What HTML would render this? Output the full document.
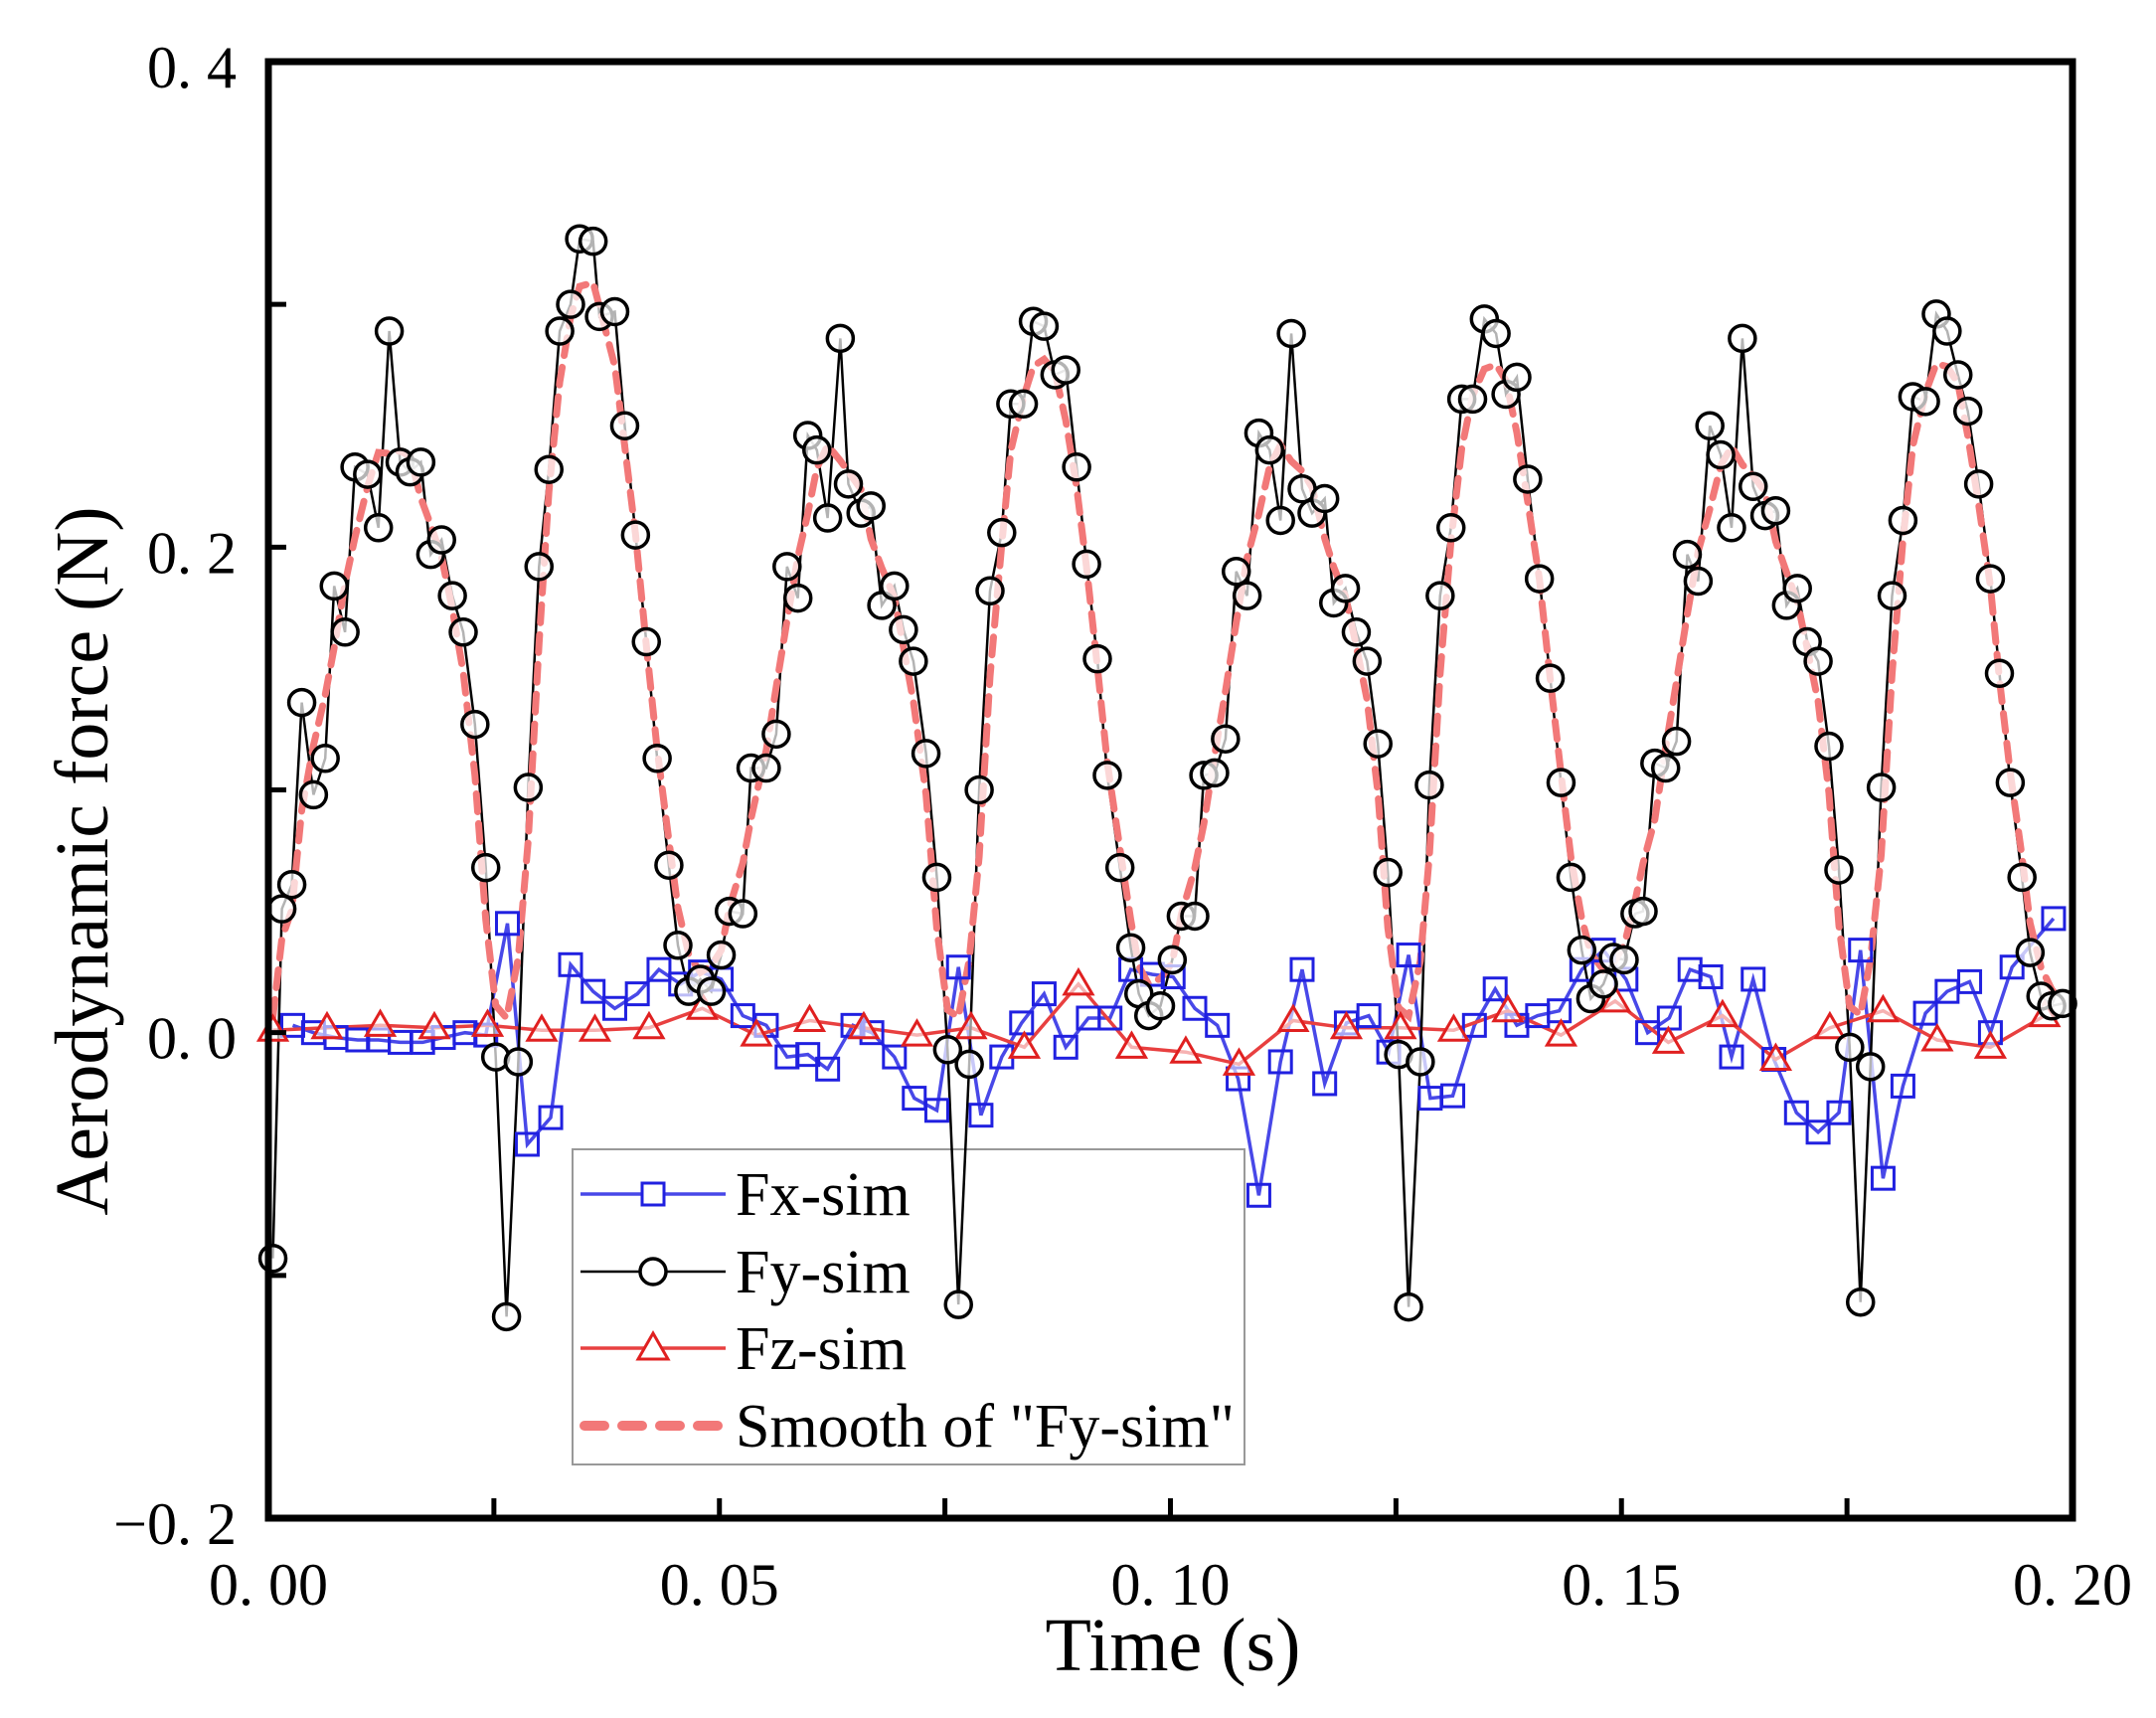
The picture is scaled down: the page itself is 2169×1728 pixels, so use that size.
<!DOCTYPE html>
<html><head><meta charset="utf-8"><style>
html,body{margin:0;padding:0;background:#fff;}
svg{display:block;}
text{font-family:"Liberation Serif","Noto Serif CJK SC",serif;fill:#000;}
</style></head><body>
<svg id="chart" width="2169" height="1728" viewBox="0 0 2169 1728" xmlns="http://www.w3.org/2000/svg">
<g id="legend"></g>
<g id="plot"></g>
<g id="axes"></g>
</svg>
<script>
const fyT=[0.0005,0.0015,0.0026,0.0037,0.0050,0.0063,0.0073,0.0085,0.0096,0.0110,0.0122,0.0134,0.0146,0.0157,0.0169,0.0180,0.0192,0.0204,0.0216,0.0229,0.0241,0.0252,0.0264,0.0277,0.0288,0.0300,0.0311,0.0323,0.0335,0.0345,0.0360,0.0367,0.0384,0.0395,0.0407,0.0419,0.0431,0.0444,0.0454,0.0466,0.0479,0.0491,0.0502,0.0511,0.0526,0.0535,0.0552,0.0563,0.0575,0.0587,0.0598,0.0608,0.0620,0.0634,0.0643,0.0657,0.0668,0.0680,0.0694,0.0704,0.0715,0.0729,0.0741,0.0753,0.0765,0.0777,0.0788,0.0800,0.0813,0.0823,0.0837,0.0848,0.0860,0.0872,0.0884,0.0896,0.0907,0.0919,0.0930,0.0944,0.0956,0.0965,0.0976,0.0989,0.1002,0.1012,0.1027,0.1037,0.1049,0.1061,0.1073,0.1085,0.1098,0.1110,0.1122,0.1134,0.1146,0.1157,0.1171,0.1181,0.1194,0.1206,0.1218,0.1230,0.1241,0.1253,0.1264,0.1277,0.1287,0.1299,0.1311,0.1323,0.1335,0.1348,0.1361,0.1372,0.1384,0.1396,0.1409,0.1421,0.1433,0.1444,0.1456,0.1466,0.1480,0.1491,0.1503,0.1515,0.1524,0.1537,0.1549,0.1561,0.1573,0.1585,0.1598,0.1610,0.1622,0.1634,0.1646,0.1659,0.1671,0.1683,0.1695,0.1706,0.1718,0.1730,0.1741,0.1753,0.1765,0.1776,0.1788,0.1800,0.1812,0.1823,0.1837,0.1849,0.1861,0.1873,0.1884,0.1896,0.1909,0.1919,0.1931,0.1944,0.1953,0.1965,0.1977,0.1989];
const fyV=[-0.093,0.051,0.061,0.136,0.098,0.113,0.184,0.165,0.233,0.230,0.208,0.289,0.235,0.231,0.235,0.197,0.203,0.180,0.165,0.127,0.068,-0.010,-0.117,-0.012,0.101,0.192,0.232,0.289,0.300,0.327,0.326,0.295,0.297,0.250,0.205,0.161,0.113,0.069,0.036,0.017,0.022,0.017,0.032,0.050,0.049,0.109,0.109,0.123,0.192,0.179,0.246,0.240,0.212,0.286,0.226,0.214,0.217,0.176,0.184,0.166,0.153,0.115,0.064,-0.007,-0.112,-0.013,0.100,0.182,0.206,0.259,0.259,0.293,0.291,0.271,0.273,0.233,0.193,0.154,0.106,0.068,0.035,0.016,0.007,0.011,0.030,0.048,0.048,0.106,0.107,0.121,0.190,0.180,0.247,0.240,0.211,0.288,0.224,0.214,0.220,0.177,0.183,0.165,0.153,0.119,0.066,-0.009,-0.113,-0.012,0.102,0.180,0.208,0.261,0.261,0.294,0.288,0.263,0.270,0.228,0.187,0.146,0.103,0.064,0.034,0.014,0.020,0.031,0.030,0.049,0.050,0.111,0.109,0.120,0.197,0.186,0.250,0.238,0.208,0.286,0.225,0.213,0.215,0.176,0.183,0.161,0.153,0.118,0.067,-0.006,-0.111,-0.014,0.101,0.180,0.211,0.262,0.260,0.296,0.289,0.271,0.256,0.226,0.187,0.148,0.103,0.064,0.033,0.015,0.011,0.012];
const fxT=[0.0027,0.0050,0.0075,0.0099,0.0122,0.0146,0.0171,0.0194,0.0218,0.0241,0.0265,0.0287,0.0313,0.0335,0.0360,0.0384,0.0409,0.0433,0.0457,0.0479,0.0502,0.0526,0.0552,0.0575,0.0598,0.0620,0.0648,0.0669,0.0694,0.0716,0.0741,0.0765,0.0790,0.0813,0.0835,0.0860,0.0884,0.0909,0.0933,0.0956,0.0980,0.1003,0.1027,0.1052,0.1075,0.1098,0.1122,0.1146,0.1171,0.1195,0.1220,0.1242,0.1264,0.1288,0.1313,0.1337,0.1360,0.1384,0.1407,0.1431,0.1456,0.1480,0.1505,0.1529,0.1553,0.1576,0.1599,0.1622,0.1646,0.1669,0.1694,0.1718,0.1741,0.1765,0.1790,0.1812,0.1837,0.1861,0.1886,0.1909,0.1933,0.1979];
const fxV=[0.003,0.000,-0.002,-0.003,-0.003,-0.004,-0.004,-0.002,0.000,-0.001,0.045,-0.046,-0.035,0.028,0.017,0.010,0.016,0.026,0.020,0.025,0.022,0.007,0.003,-0.010,-0.009,-0.015,0.003,0.000,-0.010,-0.027,-0.032,0.027,-0.034,-0.010,0.004,0.016,-0.006,0.006,0.006,0.026,0.024,0.023,0.010,0.003,-0.019,-0.067,-0.012,0.026,-0.021,0.004,0.007,-0.008,0.032,-0.027,-0.026,0.003,0.018,0.003,0.007,0.009,0.026,0.034,0.022,0.000,0.006,0.026,0.023,-0.010,0.022,-0.011,-0.033,-0.041,-0.033,0.034,-0.060,-0.022,0.008,0.017,0.021,0.000,0.027,0.047];
const fzT=[0.0005,0.0065,0.0124,0.0184,0.0243,0.0303,0.0362,0.0422,0.0481,0.0541,0.0600,0.0660,0.0719,0.0779,0.0838,0.0898,0.0957,0.1017,0.1076,0.1136,0.1195,0.1255,0.1314,0.1374,0.1433,0.1493,0.1552,0.1612,0.1671,0.1731,0.1790,0.1850,0.1909,0.1969];
const fzV=[0.001,0.002,0.003,0.002,0.003,0.001,0.001,0.002,0.010,-0.001,0.005,0.002,-0.001,0.002,-0.006,0.020,-0.006,-0.008,-0.013,0.005,0.002,0.002,0.001,0.009,-0.001,0.013,-0.004,0.007,-0.011,0.002,0.009,-0.003,-0.006,0.007];
const xTicks=[0,0.05,0.10,0.15,0.20];
const xTickLabels=["0. 00","0. 05","0. 10","0. 15","0. 20"];
const yTicks=[0.4,0.2,0.0,-0.2];
const yTickLabels=["0. 4","0. 2","0. 0","\u22120. 2"];

const L=270,R=2085,T=62,B=1527;
const xMin=0,xMax=0.2,yMin=-0.2,yMax=0.4;
const sx=t=>L+(t-xMin)/(xMax-xMin)*(R-L);
const sy=v=>B-(v-yMin)/(yMax-yMin)*(B-T);
const NS="http://www.w3.org/2000/svg";
function mk(tag,attrs,parent){const e=document.createElementNS(NS,tag);for(const k in attrs)e.setAttribute(k,attrs[k]);parent.appendChild(e);return e;}
const plot=document.getElementById('plot'),axes=document.getElementById('axes'),leg=document.getElementById('legend');

const smV=fyV.map((v,i)=>{let s=0,n=0;for(let k=i-2;k<=i+2;k++){if(k>=0&&k<fyV.length){s+=fyV[k];n++;}}return s/n;});
function pathFor(ts,vs){return ts.map((t,i)=>(i?'L':'M')+sx(t).toFixed(1)+' '+sy(vs[i]).toFixed(1)).join(' ');}

let p;
p=mk('path',{d:pathFor(fxT,fxV),fill:'none',stroke:'#4848e8','stroke-width':3.5},plot);


p=mk('path',{d:pathFor(fzT,fzV),fill:'none',stroke:'#e84040','stroke-width':3.5},plot);


p=mk('path',{d:pathFor(fyT,fyV),fill:'none',stroke:'#000','stroke-width':2.5},plot);


p=mk('path',{d:pathFor(fyT,smV),fill:'none',stroke:'#f27878','stroke-width':7,'stroke-dasharray':'18 12','stroke-linecap':'round'},plot);



fxT.forEach((t,i)=>{const m=mk('rect',{x:sx(t)-11,y:sy(fxV[i])-11,width:22,height:22,fill:'none',stroke:'#2020e0','stroke-width':3},plot);

});
fzT.forEach((t,i)=>{const x=sx(t),y=sy(fzV[i]);const m=mk('polygon',{points:`${x},${y-14} ${x-14},${y+10} ${x+14},${y+10}`,fill:'#fff','fill-opacity':0.6,stroke:'#e02020','stroke-width':3},plot);

});
fyT.forEach((t,i)=>{const m=mk('circle',{cx:sx(t),cy:sy(fyV[i]),r:13,fill:'#fff','fill-opacity':0.7,stroke:'#000','stroke-width':3.5},plot);

});

let f=mk('rect',{x:L,y:T,width:R-L,height:B-T,fill:'none',stroke:'#000','stroke-width':7},axes);


for(let t=0;t<=0.2001;t+=0.025){const tk=mk('line',{x1:sx(t),x2:sx(t),y1:B,y2:B-20,stroke:'#000','stroke-width':5},axes);

}
for(let v=-0.2;v<=0.4001;v+=0.1){const tk=mk('line',{x1:L,x2:L+18,y1:sy(v),y2:sy(v),stroke:'#000','stroke-width':5},axes);

}
xTicks.forEach((t,i)=>{const tx=mk('text',{x:sx(t),y:1614,'text-anchor':'middle','font-size':60},axes);tx.textContent=xTickLabels[i];

});
yTicks.forEach((v,i)=>{const tx=mk('text',{x:238,y:sy(v)+26,'text-anchor':'end','font-size':60},axes);tx.textContent=yTickLabels[i];

});
let xt=mk('text',{x:1180,y:1680,'text-anchor':'middle','font-size':76},axes);xt.textContent='Time (s)';


let yt=mk('text',{x:0,y:0,'text-anchor':'middle','font-size':76,transform:'translate(108,866) rotate(-90)'},axes);yt.textContent='Aerodynamic force (N)';



let lb=mk('rect',{x:576,y:1156,width:676,height:317,fill:'#fff',stroke:'#999','stroke-width':2},leg);


const legNames=['Fx-sim','Fy-sim','Fz-sim','Smooth of "Fy-sim"'];
const legY=[1201,1279,1356,1434];
legNames.forEach((n,i)=>{const g=mk('g',{},leg);


const y=legY[i];
if(i===0){mk('line',{x1:584,x2:730,y1:y,y2:y,stroke:'#4848e8','stroke-width':3.5},g);mk('rect',{x:646,y:y-11,width:22,height:22,fill:'#fff',stroke:'#2020e0','stroke-width':3},g);}
if(i===1){mk('line',{x1:584,x2:730,y1:y,y2:y,stroke:'#000','stroke-width':2.5},g);mk('circle',{cx:657,cy:y,r:13,fill:'#fff',stroke:'#000','stroke-width':3.5},g);}
if(i===2){mk('line',{x1:584,x2:730,y1:y,y2:y,stroke:'#e84040','stroke-width':3.5},g);mk('polygon',{points:`657,${y-15} 642,${y+11} 672,${y+11}`,fill:'#fff',stroke:'#e02020','stroke-width':3},g);}
if(i===3){mk('line',{x1:588,x2:728,y1:y,y2:y,stroke:'#f27878','stroke-width':10,'stroke-dasharray':'20 18','stroke-linecap':'round'},g);}
const tx=mk('text',{x:740,y:y+21,'font-size':62},g);tx.textContent=n;});
</script>
</body></html>
